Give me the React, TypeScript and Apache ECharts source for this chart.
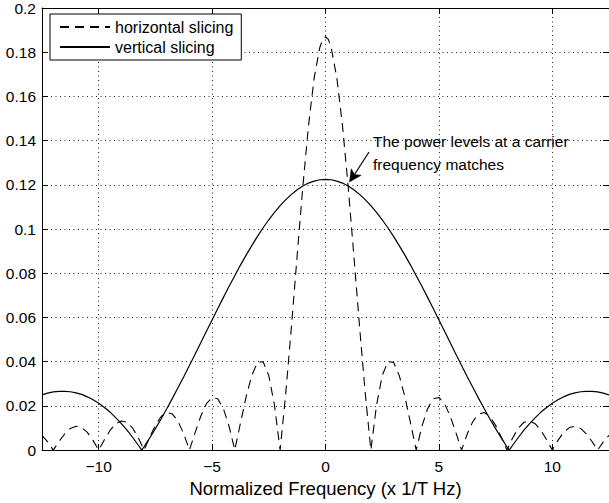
import React, { useEffect, useRef } from "react";
import * as echarts from "echarts";

// Normalized frequency samples (x 1/T Hz) and power for the horizontal slicing spectrum
const freqH = [
  -12.5, -12.25, -12, -11.75, -11.5, -11.25, -11, -10.75, -10.5, -10.25,
  -10, -9.75, -9.5, -9.25, -9, -8.75, -8.5, -8.25, -8, -7.75,
  -7.5, -7.25, -7, -6.75, -6.5, -6.25, -6, -5.75, -5.5, -5.25,
  -5, -4.75, -4.5, -4.25, -4, -3.75, -3.5, -3.25, -3, -2.75,
  -2.5, -2.25, -2, -1.75, -1.5, -1.25, -1, -0.75, -0.5, -0.25,
  -0.125, 0, 0.125,
  0.25, 0.5, 0.75, 1, 1.25, 1.5, 1.75, 2, 2.25, 2.5,
  2.75, 3, 3.25, 3.5, 3.75, 4, 4.25, 4.5, 4.75, 5,
  5.25, 5.5, 5.75, 6, 6.25, 6.5, 6.75, 7, 7.25, 7.5,
  7.75, 8, 8.25, 8.5, 8.75, 9, 9.25, 9.5, 9.75, 10,
  10.25, 10.5, 10.75, 11, 11.25, 11.5, 11.75, 12, 12.25, 12.5,
];
const powerH = [
  0.0067, 0.0037, 0, 0.0039, 0.0073, 0.0098, 0.0108, 0.0102, 0.008, 0.0044,
  0, 0.0047, 0.0089, 0.0119, 0.0132, 0.0126, 0.0099, 0.0055, 0, 0.0059,
  0.0112, 0.0152, 0.017, 0.0163, 0.013, 0.0073, 0, 0.0079, 0.0153, 0.021,
  0.0238, 0.0232, 0.0187, 0.0107, 0, 0.0122, 0.0241, 0.0338, 0.0397, 0.04,
  0.0337, 0.0203, 0, 0.026, 0.0561, 0.088, 0.1191, 0.1467, 0.1684, 0.1822,
  0.1858, 0.187, 0.1858,
  0.1822, 0.1684, 0.1467, 0.1191, 0.088, 0.0561, 0.026, 0, 0.0203, 0.0337,
  0.04, 0.0397, 0.0338, 0.0241, 0.0122, 0, 0.0107, 0.0187, 0.0232, 0.0238,
  0.021, 0.0153, 0.0079, 0, 0.0073, 0.013, 0.0163, 0.017, 0.0152, 0.0112,
  0.0059, 0, 0.0055, 0.0099, 0.0126, 0.0132, 0.0119, 0.0089, 0.0047, 0,
  0.0044, 0.008, 0.0102, 0.0108, 0.0098, 0.0073, 0.0039, 0, 0.0037, 0.0067,
];

// Normalized frequency samples and power for the vertical slicing spectrum
const freqV = [
  -12.5, -12.25, -12, -11.75, -11.5, -11.25, -11, -10.75, -10.5, -10.25,
  -10, -9.75, -9.5, -9.25, -9, -8.75, -8.5, -8.25, -8.1, -8,
  -7.75, -7.5, -7.25, -7, -6.75, -6.5, -6.25, -6, -5.75, -5.5,
  -5.25, -5, -4.75, -4.5, -4.25, -4, -3.75, -3.5, -3.25, -3,
  -2.75, -2.5, -2.25, -2, -1.75, -1.5, -1.25, -1, -0.75, -0.5,
  -0.25, 0, 0.25,
  0.5, 0.75, 1, 1.25, 1.5, 1.75, 2, 2.25, 2.5, 2.75,
  3, 3.25, 3.5, 3.75, 4, 4.25, 4.5, 4.75, 5, 5.25,
  5.5, 5.75, 6, 6.25, 6.5, 6.75, 7, 7.25, 7.5, 7.75,
  8, 8.1, 8.25, 8.5, 8.75, 9, 9.25, 9.5, 9.75, 10,
  10.25, 10.5, 10.75, 11, 11.25, 11.5, 11.75, 12, 12.25, 12.5,
];
const powerV = [
  0.025, 0.0258, 0.0263, 0.0266, 0.0266, 0.0264, 0.0259, 0.0252, 0.0241, 0.0228,
  0.0212, 0.0193, 0.0172, 0.0147, 0.012, 0.009, 0.0057, 0.0022, 0, 0.0015,
  0.0055, 0.0097, 0.0141, 0.0187, 0.0234, 0.0283, 0.0332, 0.0383, 0.0434, 0.0486,
  0.0538, 0.0589, 0.0641, 0.0691, 0.0741, 0.0789, 0.0837, 0.0882, 0.0925, 0.0967,
  0.1006, 0.1042, 0.1075, 0.1106, 0.1133, 0.1157, 0.1178, 0.1195, 0.1208, 0.1217,
  0.1223, 0.1225, 0.1223,
  0.1217, 0.1208, 0.1195, 0.1178, 0.1157, 0.1133, 0.1106, 0.1075, 0.1042, 0.1006,
  0.0967, 0.0925, 0.0882, 0.0837, 0.0789, 0.0741, 0.0691, 0.0641, 0.0589, 0.0538,
  0.0486, 0.0434, 0.0383, 0.0332, 0.0283, 0.0234, 0.0187, 0.0141, 0.0097, 0.0055,
  0.0015, 0, 0.0022, 0.0057, 0.009, 0.012, 0.0147, 0.0172, 0.0193, 0.0212,
  0.0228, 0.0241, 0.0252, 0.0259, 0.0264, 0.0266, 0.0266, 0.0263, 0.0258, 0.025,
];

const xTicks = [-10, -5, 0, 5, 10];
const seriesNames = ["horizontal slicing", "vertical slicing"];
const xTitle = "Normalized Frequency (x 1/T Hz)";
const noteLines = ["The power levels at a carrier", "frequency matches"];

const FONT = "'Liberation Sans', Arial, Helvetica, sans-serif";
const FS = 15.5;

export default function App() {
  const ref = useRef<HTMLDivElement>(null);

  useEffect(() => {
    if (!ref.current) return;
    const chart = echarts.init(ref.current, undefined, { renderer: "svg" });

    const dotted = { color: "#222", width: 1, type: [1, 3.5] as number[] };
    const frameLine = { show: true, onZero: false, lineStyle: { color: "#000", width: 1 } };

    chart.setOption({
      animation: false,
      backgroundColor: "#fff",
      textStyle: { fontFamily: FONT },
      grid: { left: 42, right: -3, top: 6, bottom: 46, containLabel: false },
      legend: {
        data: seriesNames,
        left: 50,
        top: 14,
        orient: "vertical",
        itemWidth: 50,
        itemHeight: 12,
        itemGap: 4,
        padding: [5, 8, 5, 9],
        backgroundColor: "#fff",
        borderColor: "#000",
        borderWidth: 1,
        borderRadius: 0,
        selectedMode: false,
        itemStyle: { opacity: 0 },
        textStyle: { fontFamily: FONT, fontSize: 16, color: "#000" },
      },
      xAxis: [
        {
          type: "value",
          min: -12.5,
          max: 12.5,
          position: "bottom",
          axisLine: frameLine,
          axisTick: { show: true, inside: true, length: 6, customValues: xTicks, lineStyle: { color: "#000" } },
          axisLabel: {
            customValues: xTicks,
            margin: 8,
            fontFamily: FONT,
            fontSize: FS,
            color: "#000",
            formatter: (v: number) => String(v).replace("-", "\u2212"),
          },
          splitLine: { show: true, lineStyle: dotted },
          name: xTitle,
          nameLocation: "middle",
          nameGap: 25,
          nameTextStyle: { fontFamily: FONT, fontSize: 18.5, color: "#000" },
        },
        {
          type: "value",
          min: -12.5,
          max: 12.5,
          position: "top",
          axisLine: frameLine,
          axisTick: { show: true, inside: true, length: 6, customValues: xTicks, lineStyle: { color: "#000" } },
          axisLabel: { show: false },
          splitLine: { show: false },
        },
      ],
      yAxis: [
        {
          type: "value",
          min: 0,
          max: 0.2,
          interval: 0.02,
          position: "left",
          axisLine: frameLine,
          axisTick: { show: true, inside: true, length: 6, lineStyle: { color: "#000" } },
          axisLabel: { margin: 6, fontFamily: FONT, fontSize: FS, color: "#000" },
          splitLine: { show: true, lineStyle: dotted },
        },
        {
          type: "value",
          min: 0,
          max: 0.2,
          interval: 0.02,
          position: "right",
          axisLine: frameLine,
          axisTick: { show: true, inside: true, length: 6, lineStyle: { color: "#000" } },
          axisLabel: { show: false },
          splitLine: { show: false },
        },
      ],
      series: [
        {
          name: seriesNames[0],
          type: "line",
          xAxisIndex: 0,
          yAxisIndex: 0,
          symbol: "none",
          silent: true,
          lineStyle: { color: "#000", width: 1.1, type: [9, 6] },
          itemStyle: { color: "#000" },
          data: freqH.map((f, i) => [f, powerH[i]]),
        },
        {
          name: seriesNames[1],
          type: "line",
          xAxisIndex: 0,
          yAxisIndex: 0,
          symbol: "none",
          silent: true,
          lineStyle: { color: "#000", width: 1.2, type: "solid" },
          itemStyle: { color: "#000" },
          data: freqV.map((f, i) => [f, powerV[i]]),
        },
      ],
      graphic: [
        {
          type: "text",
          x: 373,
          y: 141,
          style: { text: noteLines[0], font: `${FS}px ${FONT}`, fill: "#000", verticalAlign: "middle" },
        },
        {
          type: "text",
          x: 373,
          y: 164,
          style: { text: noteLines[1], font: `${FS}px ${FONT}`, fill: "#000", verticalAlign: "middle" },
        },
        {
          type: "line",
          shape: { x1: 369, y1: 152, x2: 354.5, y2: 174.5 },
          style: { stroke: "#000", lineWidth: 1.2 },
        },
        {
          type: "polygon",
          shape: {
            points: [
              [349.5, 182],
              [351.2, 168.7],
              [354.5, 174.5],
              [361.2, 175.3],
            ],
          },
          style: { fill: "#000", stroke: "#000", lineWidth: 0.5 },
        },
      ],
    });

    return () => chart.dispose();
  }, []);

  return (
    <div
      ref={ref}
      style={{ position: "absolute", left: 0, top: 0, width: 609, height: 503 }}
    />
  );
}
